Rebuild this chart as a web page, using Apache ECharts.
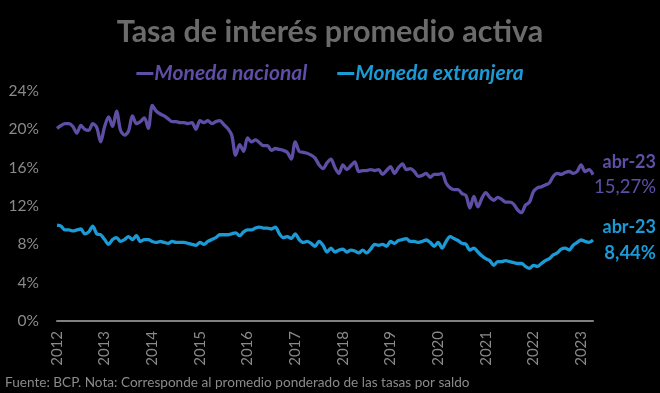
<!DOCTYPE html>
<html>
<head>
<meta charset="utf-8">
<script src="https://cdn.jsdelivr.net/npm/echarts@6/dist/echarts.min.js"></script>
<style>
html,body{margin:0;padding:0;background:#000;}
#c{width:660px;height:393px;}
</style>
</head>
<body>
<div id="c"></div>
<script>
// Monthly data Jan 2012 - Apr 2023
const years = ['2012','2013','2014','2015','2016','2017','2018','2019','2020','2021','2022','2023'];
const monthsPerYear = 12;
const lastYearMonths = 4;
const yTicks = [0, 4, 8, 12, 16, 20, 24];

const monedaNacional = [
20.1,20.4,20.6,20.6,20.3,19.6,20.4,20.0,19.9,20.6,20.2,18.7,
20.3,21.3,20.3,21.9,19.9,19.4,19.8,21.4,20.6,20.8,21.2,20.1,
22.5,21.9,21.6,21.4,21.1,20.8,20.8,20.7,20.7,20.6,20.7,20.0,
20.9,20.7,20.9,20.6,20.8,20.9,20.5,20.1,19.4,17.3,18.4,17.7,
19.1,18.7,18.9,18.6,18.3,18.3,17.8,18.0,17.9,17.8,17.6,16.9,
18.7,17.7,17.6,17.5,17.3,17.0,16.3,15.9,16.5,16.9,16.0,15.4,
16.3,15.8,16.2,16.6,15.6,15.7,15.7,15.8,15.7,15.8,15.3,15.7,
16.1,15.4,16.0,16.4,15.8,15.9,15.6,15.1,15.2,15.4,15.0,15.3,
15.3,15.4,14.4,13.9,13.7,13.7,13.3,13.1,11.8,13.0,11.9,12.8,
13.4,12.9,12.6,12.9,12.7,12.4,12.4,12.2,11.6,11.3,12.1,12.4,
13.5,13.9,14.0,14.2,14.4,15.1,15.4,15.3,15.5,15.6,15.4,15.6,
16.3,15.6,15.8,15.27
];
const monedaExtranjera = [
10.0,9.9,9.5,9.5,9.4,9.5,9.6,9.1,9.3,9.9,9.1,9.0,
8.5,8.0,8.5,8.7,8.3,8.5,8.8,8.5,8.9,8.3,8.5,8.5,
8.3,8.2,8.3,8.2,8.1,8.3,8.2,8.2,8.2,8.1,8.0,7.9,
8.2,8.0,8.3,8.5,8.7,9.0,9.0,9.0,9.1,9.2,8.9,9.3,
9.5,9.5,9.7,9.8,9.7,9.7,9.6,9.8,9.1,8.7,8.8,8.6,
9.1,8.5,8.2,8.3,8.1,7.8,8.3,7.9,7.2,7.6,7.2,7.4,
7.5,7.2,7.4,7.3,7.1,7.4,7.1,7.5,8.0,7.9,8.0,7.8,
8.3,8.1,8.4,8.5,8.6,8.3,8.3,8.2,8.3,8.45,8.2,7.8,
8.2,7.6,8.3,8.8,8.6,8.4,8.1,8.0,7.4,7.6,7.2,6.8,
6.5,6.3,5.8,6.2,6.2,6.3,6.2,6.1,6.0,6.0,5.7,5.5,
5.8,5.7,6.0,6.3,6.5,6.9,7.1,7.5,7.6,7.4,7.9,8.2,
8.45,8.3,8.2,8.44
];
const lastLabel = 'abr-23';

const categories = [];
years.forEach((y, yi) => {
  const n = yi === years.length - 1 ? lastYearMonths : monthsPerYear;
  for (let m = 1; m <= n; m++) categories.push(y + '-' + (m < 10 ? '0' + m : m));
});

const PURPLE = '#5f4ea6';
const BLUE = '#1b9ad6';
const FONT = 'Lato, "Open Sans", sans-serif';

function fmtPct(v) { return v.toFixed(2).replace('.', ',') + '%'; }

const chart = echarts.init(document.getElementById('c'), null, {renderer: 'canvas'});
chart.setOption({
  backgroundColor: '#000',
  animation: false,
  title: {
    text: 'Tasa de interés promedio activa',
    left: 'center',
    top: 12,
    textStyle: {color: '#6b6b6b', fontSize: 30.5, fontWeight: 'bold', fontFamily: FONT}
  },
  legend: {
    top: 58,
    left: 'center',
    itemGap: 30,
    itemWidth: 17,
    itemHeight: 3,
    icon: 'rect',
    textStyle: {fontSize: 21, fontStyle: 'italic', fontWeight: 'bold', fontFamily: FONT, padding: [0,0,0,-4]},
    data: [
      {name: 'Moneda nacional', textStyle: {color: PURPLE}},
      {name: 'Moneda extranjera', textStyle: {color: BLUE}}
    ]
  },
  grid: {left: 57, right: 67, top: 91, bottom: 72, containLabel: false},
  xAxis: {
    type: 'category',
    data: categories,
    boundaryGap: false,
    axisLine: {lineStyle: {color: '#808080', width: 2}},
    axisTick: {show: false},
    axisLabel: {
      rotate: 90,
      color: '#8a8a8a',
      fontSize: 15,
      fontFamily: FONT,
      margin: 10,
      interval: (idx) => idx % monthsPerYear === 0,
      formatter: (v) => v.slice(0, 4)
    },
    splitLine: {show: false}
  },
  yAxis: {
    type: 'value',
    min: yTicks[0],
    max: yTicks[yTicks.length - 1],
    interval: yTicks[1] - yTicks[0],
    axisLine: {show: false},
    axisTick: {show: false},
    splitLine: {show: false},
    axisLabel: {color: '#8a8a8a', fontSize: 15.5, fontFamily: FONT, margin: 18, formatter: '{value}%'}
  },
  series: [
    {
      name: 'Moneda nacional',
      type: 'line',
      data: monedaNacional,
      smooth: 0.3,
      showSymbol: false,
      lineStyle: {color: PURPLE, width: 3.3},
      itemStyle: {color: PURPLE},
      endLabel: {
        show: true,
        distance: 2,
        formatter: (p) => '{a|' + lastLabel + '}\n{b|' + fmtPct(p.value) + '}',
        rich: {
          a: {color: PURPLE, fontSize: 18, fontWeight: 'bold', fontFamily: FONT, align: 'right', width: 61, lineHeight: 25},
          b: {color: PURPLE, fontSize: 18.5, fontFamily: FONT, align: 'right', width: 61, lineHeight: 25}
        }
      }
    },
    {
      name: 'Moneda extranjera',
      type: 'line',
      data: monedaExtranjera,
      smooth: 0.3,
      showSymbol: false,
      lineStyle: {color: BLUE, width: 3.3},
      itemStyle: {color: BLUE},
      endLabel: {
        show: true,
        distance: 2,
        formatter: (p) => '{a|' + lastLabel + '}\n{b|' + fmtPct(p.value) + '}',
        rich: {
          a: {color: BLUE, fontSize: 18, fontWeight: 'bold', fontFamily: FONT, align: 'right', width: 61, lineHeight: 25},
          b: {color: BLUE, fontSize: 18.5, fontWeight: 'bold', fontFamily: FONT, align: 'right', width: 61, lineHeight: 25}
        }
      }
    }
  ],
  graphic: [{
    type: 'text',
    left: 5,
    top: 376,
    style: {
      text: 'Fuente: BCP. Nota: Corresponde al promedio ponderado de las tasas por saldo',
      fill: '#8a8a8a',
      fontSize: 13.6,
      fontFamily: FONT
    }
  }]
});
</script>
</body>
</html>
